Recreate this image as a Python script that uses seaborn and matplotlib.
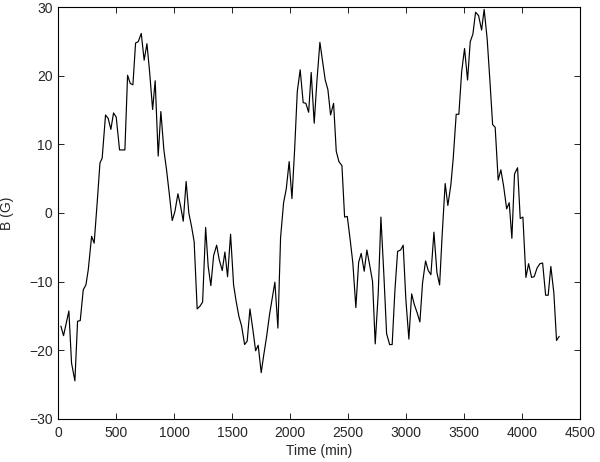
import matplotlib
matplotlib.use("Agg")
import matplotlib.pyplot as plt
import seaborn as sns
import pandas as pd

time_min = [23, 46, 92, 115, 144, 167, 190, 216, 239, 259, 288, 310, 336, 360, 379, 408, 431, 454, 477, 500,
            529, 552, 575, 598, 621, 644, 667, 690, 716, 741, 765, 788, 814, 836, 862, 885, 911, 934, 957, 983,
            1006, 1032, 1055, 1078, 1103, 1126, 1150, 1172, 1198, 1222, 1245, 1271, 1293, 1316, 1340, 1366, 1388,
            1414, 1437, 1460, 1486, 1512, 1534, 1558, 1581, 1607, 1629, 1653, 1678, 1702, 1724, 1750, 1773, 1797,
            1822, 1845, 1868, 1894, 1917, 1943, 1966, 1991, 2015, 2038, 2061, 2086, 2112, 2135, 2159, 2181, 2207,
            2230, 2256, 2279, 2302, 2325, 2348, 2374, 2397, 2420, 2446, 2469, 2492, 2517, 2540, 2566, 2590, 2612,
            2638, 2661, 2684, 2710, 2733, 2759, 2782, 2808, 2831, 2857, 2879, 2903, 2926, 2952, 2974, 2997, 3023,
            3047, 3069, 3095, 3118, 3141, 3167, 3190, 3213, 3239, 3265, 3288, 3310, 3336, 3359, 3385, 3405, 3431,
            3454, 3478, 3503, 3529, 3552, 3575, 3598, 3624, 3650, 3672, 3698, 3722, 3745, 3767, 3793, 3816, 3840,
            3866, 3888, 3911, 3934, 3960, 3983, 4006, 4032, 4055, 4081, 4103, 4129, 4153, 4176, 4202, 4224, 4247,
            4273, 4296, 4319]

b_gauss = [-16.5, -17.9, -14.3, -21.9, -24.5, -15.8, -15.7, -11.2, -10.5, -8.3, -3.4, -4.4, 1.5, 7.3, 8.0, 14.3,
           13.8, 12.2, 14.6, 14.0, 9.2, 9.2, 9.2, 20.1, 18.9, 18.7, 24.8, 25.0, 26.2, 22.3, 24.7, 20.6, 15.1, 19.3,
           8.3, 14.8, 9.2, 6.3, 2.9, -1.1, 0.2, 2.8, 1.0, -1.2, 4.6, 0.0, -2.0, -4.2, -14.0, -13.6, -13.0, -2.1,
           -7.8, -10.6, -6.2, -4.7, -6.8, -8.4, -5.7, -9.3, -3.1, -10.5, -12.9, -15.1, -16.5, -19.2, -18.7, -14.0,
           -17.0, -20.1, -19.3, -23.3, -20.6, -18.0, -14.8, -12.4, -10.1, -16.8, -3.6, 1.5, 3.5, 7.5, 2.1, 9.2,
           17.7, 20.9, 16.1, 16.0, 14.7, 20.5, 13.1, 19.2, 24.9, 22.2, 19.4, 18.0, 14.3, 16.0, 9.0, 7.5, 6.9,
           -0.6, -0.5, -3.9, -7.3, -13.8, -7.2, -5.9, -8.5, -5.4, -7.5, -10.0, -19.1, -11.7, -0.6, -9.2, -17.6,
           -19.2, -19.2, -11.2, -5.6, -5.4, -4.7, -12.6, -18.4, -11.8, -13.3, -14.6, -15.9, -10.2, -7.0, -8.4,
           -9.0, -2.8, -8.7, -10.5, -3.2, 4.3, 1.1, 4.1, 7.9, 14.4, 14.4, 20.6, 24.0, 19.4, 25.0, 26.1, 29.3,
           28.8, 26.7, 29.7, 25.4, 19.2, 12.9, 12.5, 4.8, 6.3, 3.9, 0.6, 1.5, -3.7, 5.7, 6.6, -0.8, -0.6, -9.4,
           -7.4, -9.4, -9.3, -8.0, -7.4, -7.3, -12.0, -12.0, -7.8, -11.7, -18.6, -18.0]

x_ticks = [0, 500, 1000, 1500, 2000, 2500, 3000, 3500, 4000, 4500]
y_ticks = [-30, -20, -10, 0, 10, 20, 30]

sns.set_theme(style="white")
plt.rcParams['font.family'] = ['Liberation Sans', 'DejaVu Sans']
plt.rcParams['axes.unicode_minus'] = True

df = pd.DataFrame({"t": time_min, "B": b_gauss})

fig = plt.figure(figsize=(6.0, 4.62), dpi=100)
ax = fig.add_axes([0.097, 0.094, 0.870, 0.890])
sns.lineplot(data=df, x="t", y="B", ax=ax, color="black", linewidth=0.85, sort=False)

ax.set_xlim(0, 4500)
ax.set_ylim(-30, 30)
ax.set_xticks(x_ticks)
ax.set_yticks(y_ticks)
ax.set_xlabel("Time (min)", fontsize=10, labelpad=3.5)
ax.set_ylabel("B (G)", fontsize=10, labelpad=11)
ax.tick_params(axis="both", direction="in", length=4.5, width=0.6, labelsize=10, top=True, right=True,
               bottom=True, left=True, color="black")
ax.tick_params(axis="x", pad=5)
ax.tick_params(axis="y", pad=4)
for s in ax.spines.values():
    s.set_visible(True)
    s.set_color("black")
    s.set_linewidth(0.8)

fig.savefig("out.png", dpi=100)
